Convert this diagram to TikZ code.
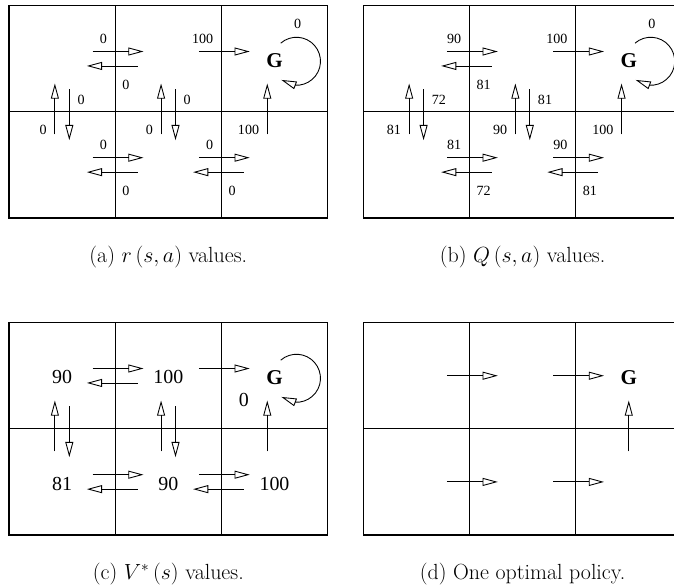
\RequirePackage{fix-cm}
\documentclass[tikz,border=0pt]{standalone}
\usepackage{fontspec}
\newfontfamily\timesfont{Liberation Serif}
\usetikzlibrary{arrows.meta,bending}

\begin{document}
\begin{tikzpicture}[x=3.186cm, y=3.186cm,
    move/.style={line width=0.75pt, -{Triangle[open, length=13pt, width=6.8pt, flex]}},
    cell/.style={line width=1pt},
    rew/.style={font=\timesfont\fontsize{12}{14}\selectfont, inner sep=0pt},
    val/.style={font=\timesfont\fontsize{17}{20}\selectfont, inner sep=0pt},
    goal/.style={font=\timesfont\bfseries\fontsize{18}{20}\selectfont, inner sep=0pt},
    subcap/.style={font=\fontsize{18.7}{22}\selectfont}]
    \useasboundingbox (-0.0847,-0.4896) rectangle (6.262,5.038);
    % the four grid worlds
    \foreach \gx/\gy in {0/2.985, 3.336/2.985, 0/0, 3.336/0} {
        \draw[cell, shift={(\gx,\gy)}] (0,0) rectangle (3,2)
            (0,1) -- (3,1) (1,0) -- (1,2) (2,0) -- (2,2);
    }
    % all moves, in (a), (b) and (c)
    \foreach \gx/\gy in {0/2.985, 3.336/2.985, 0/0} {
        \begin{scope}[shift={(\gx,\gy)}]
            \foreach \bx/\ry in {1/1.5, 1/0.5, 2/0.5} {
                \draw[move] (\bx-0.212,\ry+0.068) -- (\bx+0.267,\ry+0.068);
                \draw[move] (\bx+0.212,\ry-0.068) -- (\bx-0.267,\ry-0.068);
            }
            \draw[move] (1.788,1.568) -- (2.267,1.568);
            \foreach \cx in {0.5,1.5} {
                \draw[move] (\cx-0.068,0.788) -- (\cx-0.068,1.267);
                \draw[move] (\cx+0.068,1.212) -- (\cx+0.068,0.733);
            }
            \draw[move] (2.432,0.788) -- (2.432,1.267);
            % stay in G
            \draw[move] (2.707,1.476) ++(131:0.226)
                arc[start angle=131, end angle=-129, radius=0.226];
        \end{scope}
    }
    % (a) immediate rewards
    \begin{scope}[shift={(0,2.985)}]
        \node[goal] (ga) at (2.5,1.485) {G};
        \foreach \bx/\ry/\re/\rw [count=\i] in {1/1.5/0/0, 1/0.5/0/0, 2/0.5/0/0} {
            \node[rew, anchor=east] (ae\i) at (\bx-0.075,\ry+0.19) {\re};
            \node[rew, anchor=west] (aw\i) at (\bx+0.066,\ry-0.245) {\rw};
        }
        \foreach \cx/\rn/\rs [count=\i] in {0.5/0/0, 1.5/0/0} {
            \node[rew, anchor=east] (an\i) at (\cx-0.143,0.83) {\rn};
            \node[rew, anchor=west] (as\i) at (\cx+0.143,1.113) {\rs};
        }
        \node[rew, anchor=east] (ag1) at (1.925,1.69) {100};
        \node[rew, anchor=east] (ag2) at (2.357,0.83) {100};
        \node[rew] (al) at (2.717,1.83) {0};
        \node[subcap] (capa) at (1.5,-0.366) {(a) $r\left(s,a\right)$ values.};
    \end{scope}
    % (b) Q values
    \begin{scope}[shift={(3.336,2.985)}]
        \node[goal] (gb) at (2.5,1.485) {G};
        \foreach \bx/\ry/\re/\rw [count=\i] in {1/1.5/90/81, 1/0.5/81/72, 2/0.5/90/81} {
            \node[rew, anchor=east] (be\i) at (\bx-0.075,\ry+0.19) {\re};
            \node[rew, anchor=west] (bw\i) at (\bx+0.066,\ry-0.245) {\rw};
        }
        \foreach \cx/\rn/\rs [count=\i] in {0.5/81/72, 1.5/90/81} {
            \node[rew, anchor=east] (bn\i) at (\cx-0.143,0.83) {\rn};
            \node[rew, anchor=west] (bs\i) at (\cx+0.143,1.113) {\rs};
        }
        \node[rew, anchor=east] (bg1) at (1.925,1.69) {100};
        \node[rew, anchor=east] (bg2) at (2.357,0.83) {100};
        \node[rew] (bl) at (2.717,1.83) {0};
        \node[subcap] (capb) at (1.5,-0.366) {(b) $Q\left(s,a\right)$ values.};
    \end{scope}
    % (c) state values
    \begin{scope}[shift={(0,0)}]
        \node[goal] (gc) at (2.5,1.485) {G};
        \node[val] (v1) at (0.5,1.485) {90};
        \node[val] (v2) at (1.5,1.485) {100};
        \node[val] (v3) at (0.5,0.485) {81};
        \node[val] (v4) at (1.5,0.485) {90};
        \node[val] (v5) at (2.5,0.485) {100};
        \node[val] (v6) at (2.211,1.267) {0};
        \node[subcap] (capc) at (1.5,-0.366) {(c) $V^{*}\left(s\right)$ values.};
    \end{scope}
    % (d) one optimal policy
    \begin{scope}[shift={(3.336,0)}]
        \node[goal] (gd) at (2.5,1.485) {G};
        \foreach \bx/\ry in {1/1.5, 2/1.5, 1/0.5, 2/0.5} {
            \draw[move] (\bx-0.212,\ry) -- (\bx+0.267,\ry);
        }
        \draw[move] (2.5,0.788) -- (2.5,1.267);
        \node[subcap] (capd) at (1.5,-0.366) {(d) One optimal policy.};
    \end{scope}
\end{tikzpicture}
\end{document}
